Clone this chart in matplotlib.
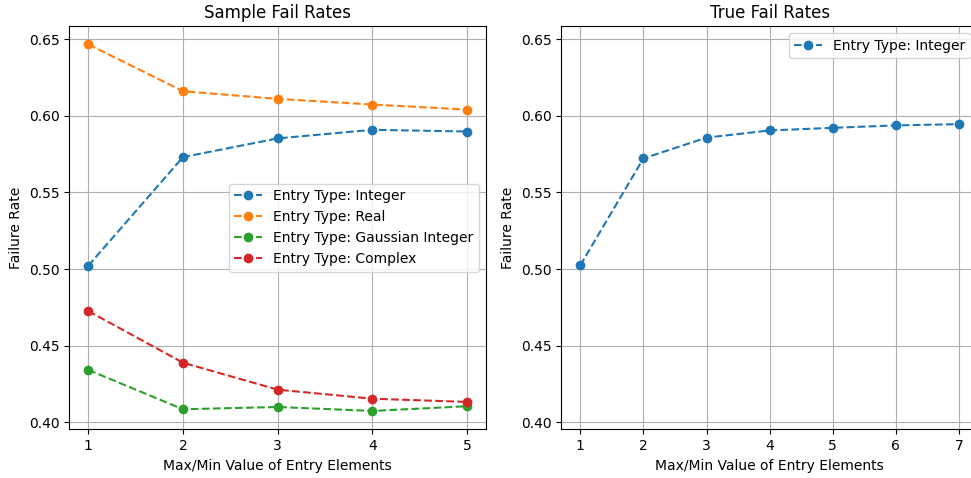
import numpy as np
import matplotlib
matplotlib.use("Agg")
import matplotlib.pyplot as plt

x_sample = [1, 2, 3, 4, 5]
integer_sample = [0.5022, 0.5731, 0.5853, 0.5909, 0.5898]
real_sample = [0.6467, 0.6161, 0.6111, 0.6074, 0.6041]
gauss_sample = [0.4342, 0.4085, 0.4100, 0.4074, 0.4105]
complex_sample = [0.4726, 0.4389, 0.4213, 0.4154, 0.4133]

x_true = [1, 2, 3, 4, 5, 6, 7]
integer_true = [0.5024, 0.5722, 0.5858, 0.5905, 0.5922, 0.5938, 0.5946]

fig, (ax1, ax2) = plt.subplots(1, 2, figsize=(9.71, 4.78), dpi=100)

ax1.plot(x_sample, integer_sample, "o--", label="Entry Type: Integer")
ax1.plot(x_sample, real_sample, "o--", label="Entry Type: Real")
ax1.plot(x_sample, gauss_sample, "o--", label="Entry Type: Gaussian Integer")
ax1.plot(x_sample, complex_sample, "o--", label="Entry Type: Complex")
ax1.set_title("Sample Fail Rates")
ax1.set_xlabel("Max/Min Value of Entry Elements")
ax1.set_ylabel("Failure Rate")
ax1.set_xticks(x_sample)
ax1.grid(True)
ax1.legend(loc="center right")

ax2.plot(x_true, integer_true, "o--", label="Entry Type: Integer")
ax2.set_title("True Fail Rates")
ax2.set_xlabel("Max/Min Value of Entry Elements")
ax2.set_ylabel("Failure Rate")
ax2.set_xticks(x_true)
ax2.set_ylim(ax1.get_ylim())
ax2.grid(True)
ax2.legend(loc="upper right")

# right panel runs a bit past the image edge, like the cropped original
fig.subplots_adjust(left=0.0714, right=1.0072, bottom=0.1019, top=0.9456, wspace=0.1806)
fig.savefig("out.png")
